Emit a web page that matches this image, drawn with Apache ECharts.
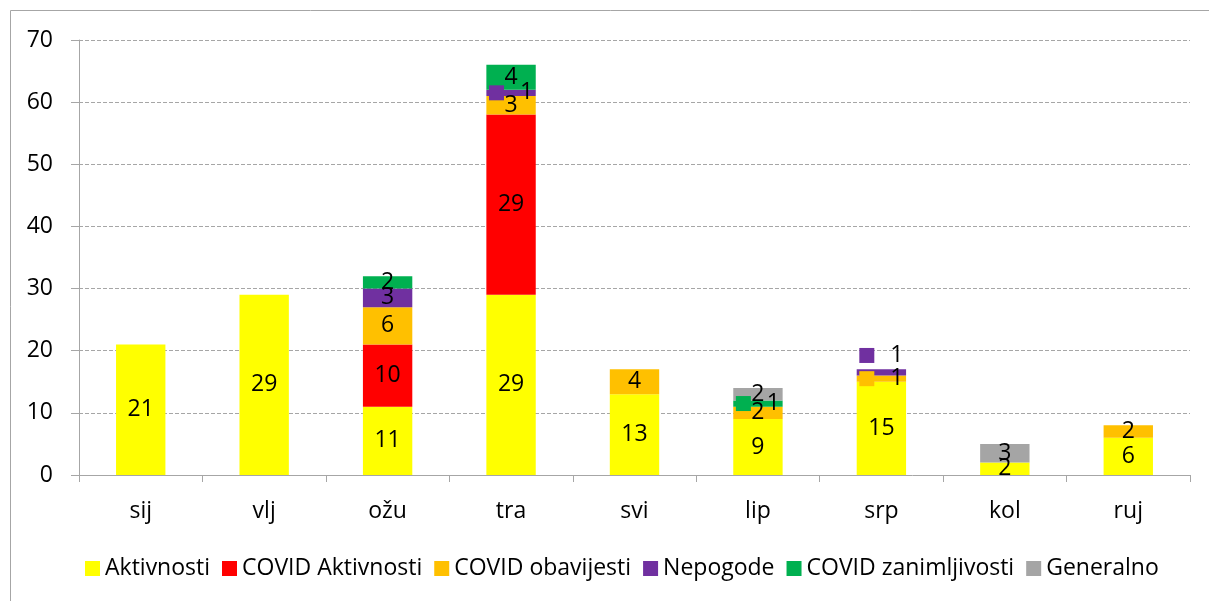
<!DOCTYPE html>
<html>
<head>
<meta charset="utf-8">
<script src="https://cdn.jsdelivr.net/npm/echarts@6/dist/echarts.min.js"></script>
<style>
  html, body { margin: 0; padding: 0; background: #fff; }
  #chart { width: 1209px; height: 601px; }
</style>
</head>
<body>
<div id="chart"></div>
<script>
'use strict'
var months = ['sij', 'vlj', 'ožu', 'tra', 'svi', 'lip', 'srp', 'kol', 'ruj'];
var seriesNames = ['Aktivnosti', 'COVID Aktivnosti', 'COVID obavijesti', 'Nepogode', 'COVID zanimljivosti', 'Generalno'];
var aktivnosti = [21, 29, 11, 29, 13, 9, 15, 2, 6];
var covidAktivnosti = ['-', '-', 10, 29, '-', '-', '-', '-', '-'];
var covidObavijesti = ['-', '-', 6, 3, 4, 2, 1, '-', 2];
var nepogode = ['-', '-', 3, 1, '-', '-', 1, '-', '-'];
var covidZanimljivosti = ['-', '-', 2, 4, '-', 1, '-', '-', '-'];
var generalno = ['-', '-', '-', '-', '-', 2, '-', 3, '-'];
var yTicks = [0, 10, 20, 30, 40, 50, 60, 70];

var colors = ['#FFFF00', '#FF0000', '#FFC000', '#7030A0', '#00B050', '#A5A5A5'];
var allData = [aktivnosti, covidAktivnosti, covidObavijesti, nepogode, covidZanimljivosti, generalno];
var font = 'Open Sans';
var fs = 23;

var chart = echarts.init(document.getElementById('chart'));

var series = allData.map(function (d, i) {
  return {
    name: seriesNames[i],
    type: 'bar',
    stack: 'total',
    barCategoryGap: '60%',
    data: d,
    itemStyle: { color: colors[i] },
    label: {
      show: true,
      position: 'inside',
      color: '#000',
      fontFamily: font,
      fontSize: fs,
      formatter: function (p) {
        // single items get a legend key, as in the original
        if (p.value === 1) return '{m|}{t|1}';
        return p.value;
      },
      rich: {
        m: { width: 15, height: 15, backgroundColor: colors[i] },
        t: { fontFamily: font, fontSize: fs, color: '#000', padding: [0, 0, 0, 16] }
      }
    },
    labelLayout: function (p) {
      if (p.seriesIndex === 3 && p.dataIndex === 6) return { dy: -17 };
      return {};
    }
  };
});

chart.setOption({
  animation: false,
  color: colors,
  textStyle: { fontFamily: font },
  graphic: [{
    type: 'rect',
    shape: { x: 10.5, y: 10.5, width: 1210, height: 610 },
    style: { fill: 'none', stroke: '#a6a6a6', lineWidth: 1 },
    silent: true
  }],
  grid: { left: 79, right: 19, top: 40, bottom: 126 },
  legend: {
    bottom: 16,
    left: 80,
    itemWidth: 15,
    itemHeight: 15,
    itemGap: 12,
    icon: 'rect',
    textStyle: { fontFamily: font, fontSize: fs, color: '#000' },
    data: seriesNames
  },
  xAxis: {
    type: 'category',
    data: months,
    axisLine: { lineStyle: { color: '#a6a6a6' } },
    axisTick: { show: true, length: 7, lineStyle: { color: '#a6a6a6' } },
    axisLabel: { color: '#000', fontFamily: font, fontSize: fs, margin: 25 }
  },
  yAxis: {
    type: 'value',
    min: yTicks[0],
    max: yTicks[yTicks.length - 1],
    interval: 10,
    axisLine: { show: true, lineStyle: { color: '#a6a6a6' } },
    axisTick: { show: true, length: 8, lineStyle: { color: '#a6a6a6' } },
    axisLabel: { color: '#000', fontFamily: font, fontSize: fs, margin: 26 },
    splitLine: { lineStyle: { color: '#a6a6a6', type: [4, 2] } }
  },
  series: series
});
</script>
</body>
</html>
